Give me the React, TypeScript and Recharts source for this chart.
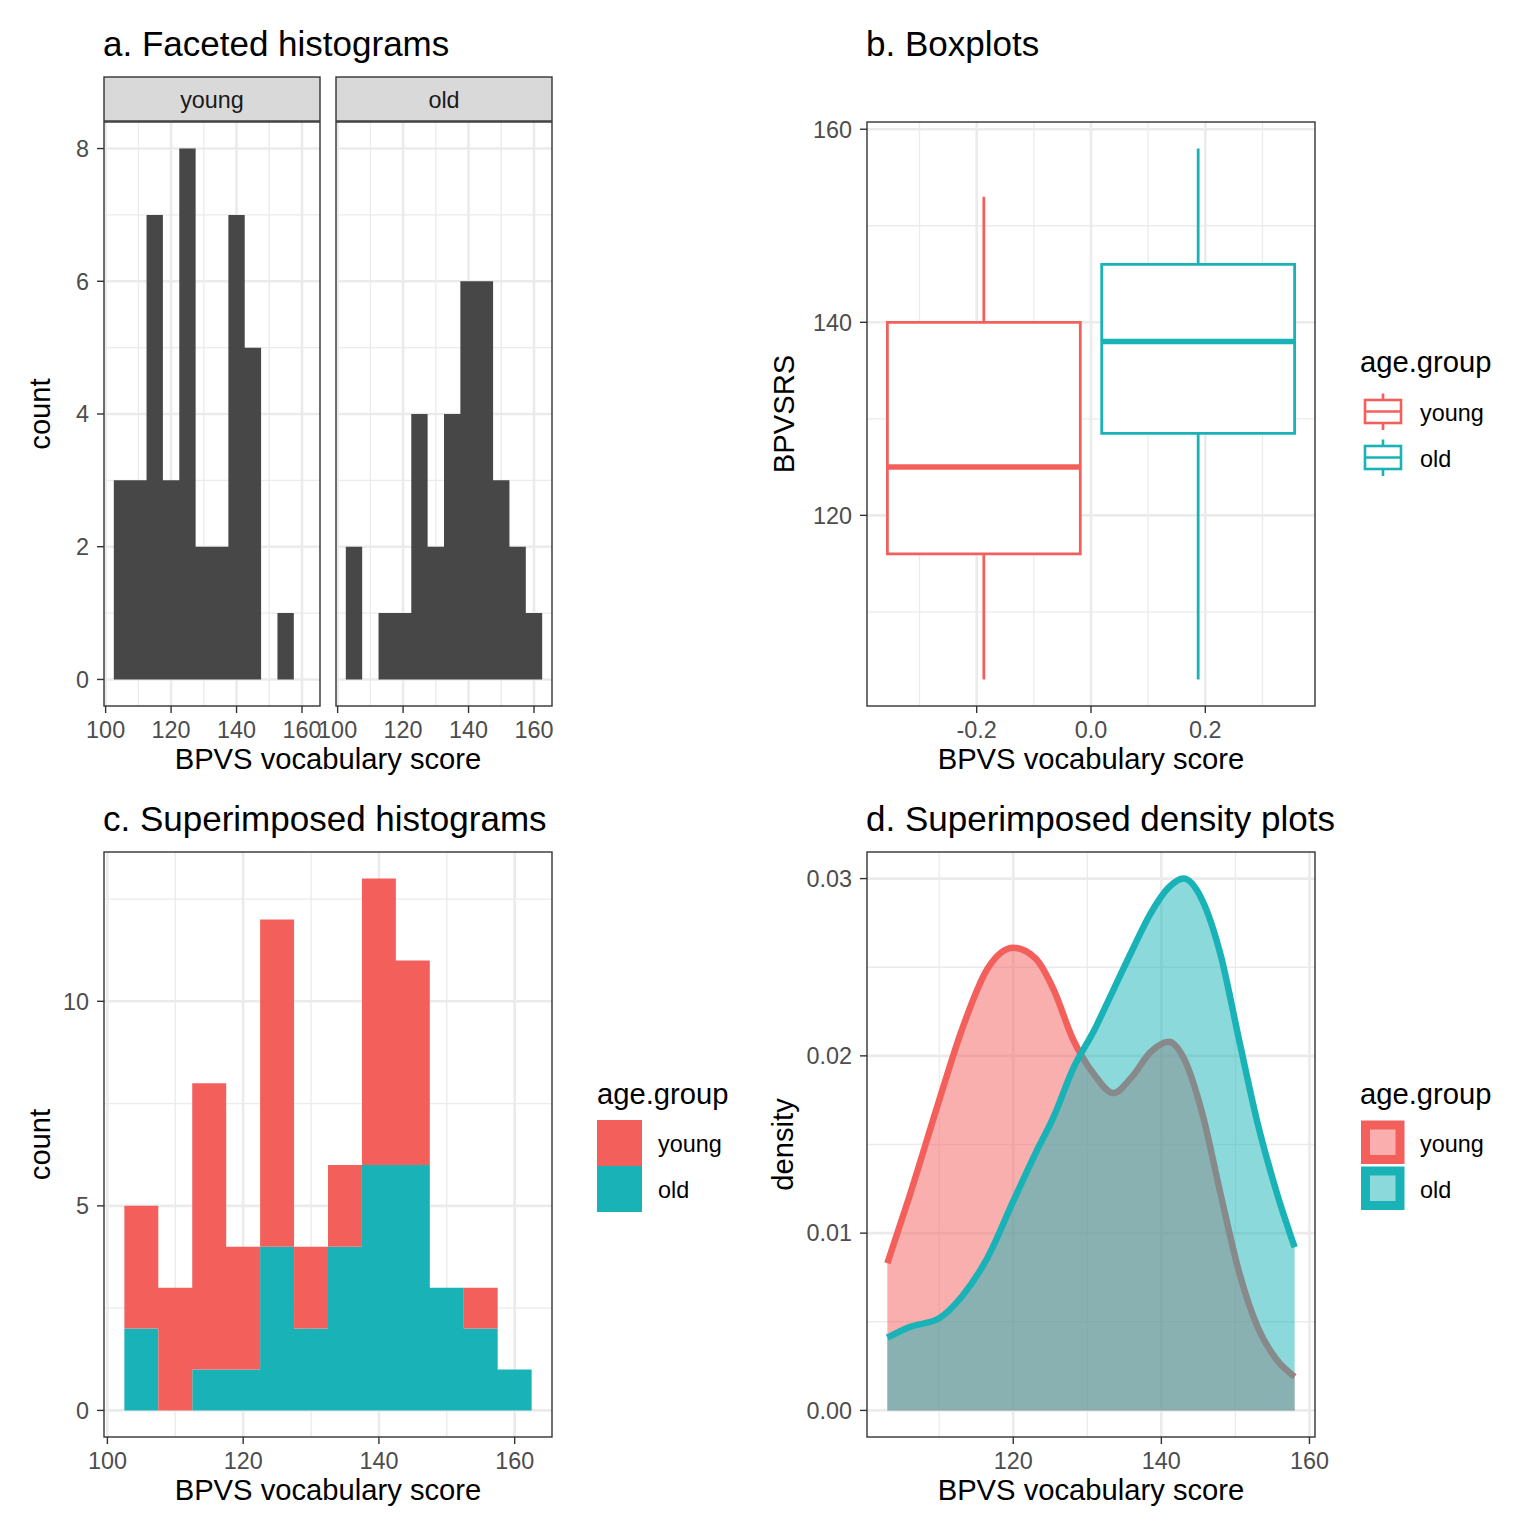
import React from "react";
import {
  ComposedChart,
  Area,
  Scatter,
  XAxis,
  YAxis,
  CartesianGrid,
  ReferenceArea,
  ReferenceLine,
} from "recharts";

const FONT = '"Liberation Sans", Arial, Helvetica, sans-serif';
const RED = "#F3605C";
const TEAL = "#19B3B7";
const HIST_GRAY = "#474747";
const GRID = "#EBEBEB";
const INK = "#333333";

// groups
const groups = ["young", "old"];
const groupColors = [RED, TEAL];

// histogram bins, width 5
const BIN_WIDTH = 5;
const binCenters = [105, 110, 115, 120, 125, 130, 135, 140, 145, 150, 155, 160];
const youngCounts = [3, 3, 7, 3, 8, 2, 2, 7, 5, 0, 1, 0];
const oldCounts = [2, 0, 1, 1, 4, 2, 4, 6, 6, 3, 2, 1];

// boxplot stats (young, old)
const whiskerLow = [103, 103];
const quartile1 = [116, 128.5];
const medians = [125, 138];
const quartile3 = [140, 146];
const whiskerHigh = [153, 158];

// density curves
const densityX = [103, 106, 110, 113, 116.5, 120, 123, 125.5, 128, 131, 133.5, 136, 138.5, 141, 143, 145.5, 148, 150.5, 153, 155.5, 158];
const youngDensity = [0.0083, 0.0121, 0.0175, 0.0214, 0.0249, 0.0261, 0.0255, 0.0237, 0.021, 0.0189, 0.0179, 0.0188, 0.0202, 0.0208, 0.0199, 0.0168, 0.0122, 0.0078, 0.0047, 0.0029, 0.0019];
const oldDensity = [0.0041, 0.0047, 0.0052, 0.0064, 0.0086, 0.0118, 0.0145, 0.0166, 0.0192, 0.0215, 0.0237, 0.0259, 0.028, 0.0295, 0.03, 0.0288, 0.0257, 0.0209, 0.0162, 0.0124, 0.0092];

// ticks / grid
const scoreTicks = [100, 120, 140, 160];
const scoreMinor = [110, 130, 150];
const facetCountTicks = [0, 2, 4, 6, 8];
const facetCountMinor = [1, 3, 5, 7];
const stackCountTicks = [0, 5, 10];
const stackCountMinor = [2.5, 7.5, 12.5];
const boxXTicks = [-0.2, 0, 0.2];
const boxXMinor = [-0.3, -0.1, 0.1, 0.3];
const boxYTicks = [120, 140, 160];
const boxYMinor = [110, 130, 150];
const densXTicks = [120, 140, 160];
const densYTicks = [0, 0.01, 0.02, 0.03];
const densYMinor = [0.005, 0.015, 0.025];

const DODGE = 0.75;
const BOX_HALF = (DODGE / groups.length / 2) * 0.9;
const dodgeCenter = (i: number) => (i - (groups.length - 1) / 2) * (DODGE / groups.length);

// plot rectangles on the page
type Box = { x0: number; y0: number; x1: number; y1: number };
const A_LEFT: Box = { x0: 104, y0: 122, x1: 320, y1: 706 };
const A_RIGHT: Box = { x0: 336, y0: 122, x1: 552, y1: 706 };
const B: Box = { x0: 867, y0: 122, x1: 1315, y1: 706 };
const C: Box = { x0: 104, y0: 852, x1: 552, y1: 1437 };
const D: Box = { x0: 867, y0: 852, x1: 1315, y1: 1437 };

const PAD = 20;
const Y_AXIS_W = 80;
const X_AXIS_H = 60;

function frame(b: Box, withY: boolean) {
  const yw = withY ? Y_AXIS_W : 0;
  return {
    style: { position: "absolute" as const, left: b.x0 - PAD - yw, top: b.y0 - PAD },
    width: b.x1 - b.x0 + yw + 2 * PAD,
    height: b.y1 - b.y0 + PAD + X_AXIS_H,
    margin: { top: PAD, right: PAD, bottom: 0, left: PAD },
  };
}

const tickStyle = { fill: "#4D4D4D", fontSize: 23.4, fontFamily: FONT };
const axisCommon = {
  type: "number" as const,
  axisLine: false,
  tickLine: { stroke: INK, strokeWidth: 1.4 },
  tickSize: 7,
  tickMargin: 8,
  tick: tickStyle,
  interval: 0 as const,
  allowDataOverflow: true,
};

function grids(minX: number[], minY: number[], majX: number[], majY: number[]) {
  return [
    <CartesianGrid key="minor" stroke={GRID} strokeWidth={1.3} verticalValues={minX} horizontalValues={minY} />,
    <CartesianGrid key="major" stroke={GRID} strokeWidth={2.6} verticalValues={majX} horizontalValues={majY} />,
  ];
}

function stepRows(counts: number[]) {
  const rows = binCenters.map((c, i) => ({ x: c - BIN_WIDTH / 2, count: counts[i] }));
  rows.push({ x: binCenters[binCenters.length - 1] + BIN_WIDTH / 2, count: 0 });
  return rows;
}

function FacetHistogram({ box, counts, showY }: { box: Box; counts: number[]; showY: boolean }) {
  const f = frame(box, showY);
  return (
    <div style={f.style}>
      <ComposedChart width={f.width} height={f.height} margin={f.margin} data={stepRows(counts)}>
        {grids(scoreMinor, facetCountMinor, scoreTicks, facetCountTicks)}
        <XAxis {...axisCommon} dataKey="x" domain={[99.5, 165.5]} ticks={scoreTicks} height={X_AXIS_H} />
        <YAxis {...axisCommon} domain={[-0.4, 8.4]} ticks={facetCountTicks} width={Y_AXIS_W} hide={!showY} />
        <Area type="stepAfter" dataKey="count" stroke="none" fill={HIST_GRAY} fillOpacity={1} dot={false} activeDot={false} isAnimationActive={false} />
      </ComposedChart>
    </div>
  );
}

function StackedHistogram() {
  const f = frame(C, true);
  const rows = binCenters.map((c, i) => ({ x: c - BIN_WIDTH / 2, young: youngCounts[i], old: oldCounts[i] }));
  rows.push({ x: binCenters[binCenters.length - 1] + BIN_WIDTH / 2, young: 0, old: 0 });
  return (
    <div style={f.style}>
      <ComposedChart width={f.width} height={f.height} margin={f.margin} data={rows}>
        {grids(scoreMinor, stackCountMinor, scoreTicks, stackCountTicks)}
        <XAxis {...axisCommon} dataKey="x" domain={[99.5, 165.5]} ticks={scoreTicks} height={X_AXIS_H} />
        <YAxis {...axisCommon} domain={[-0.65, 13.65]} ticks={stackCountTicks} width={Y_AXIS_W} />
        <Area type="stepAfter" dataKey="old" stackId="s" stroke="none" fill={TEAL} fillOpacity={1} dot={false} activeDot={false} isAnimationActive={false} />
        <Area type="stepAfter" dataKey="young" stackId="s" stroke="none" fill={RED} fillOpacity={1} dot={false} activeDot={false} isAnimationActive={false} />
      </ComposedChart>
    </div>
  );
}

function Boxplots() {
  const f = frame(B, true);
  const rows = groups.map((g, i) => ({ x: dodgeCenter(i), median: medians[i], group: g }));
  return (
    <div style={f.style}>
      <ComposedChart width={f.width} height={f.height} margin={f.margin} data={rows}>
        {grids(boxXMinor, boxYMinor, boxXTicks, boxYTicks)}
        <XAxis {...axisCommon} dataKey="x" domain={[-0.3919, 0.3919]} ticks={boxXTicks} height={X_AXIS_H} tickFormatter={(v: number) => v.toFixed(1)} />
        <YAxis {...axisCommon} domain={[100.25, 160.75]} ticks={boxYTicks} width={Y_AXIS_W} />
        <Scatter dataKey="median" shape={() => <g />} isAnimationActive={false} />
        {groups.map((g, i) => {
          const c = dodgeCenter(i);
          const col = groupColors[i];
          return [
            <ReferenceLine key={g + "lo"} segment={[{ x: c, y: whiskerLow[i] }, { x: c, y: quartile1[i] }]} stroke={col} strokeWidth={2.8} />,
            <ReferenceLine key={g + "hi"} segment={[{ x: c, y: quartile3[i] }, { x: c, y: whiskerHigh[i] }]} stroke={col} strokeWidth={2.8} />,
            <ReferenceArea key={g + "box"} x1={c - BOX_HALF} x2={c + BOX_HALF} y1={quartile1[i]} y2={quartile3[i]} fill="#FFFFFF" fillOpacity={1} stroke={col} strokeWidth={2.8} />,
            <ReferenceLine key={g + "med"} segment={[{ x: c - BOX_HALF, y: medians[i] }, { x: c + BOX_HALF, y: medians[i] }]} stroke={col} strokeWidth={5.5} />,
          ];
        })}
      </ComposedChart>
    </div>
  );
}

function Densities() {
  const f = frame(D, true);
  const rows = densityX.map((x, i) => ({ x, young: youngDensity[i], old: oldDensity[i] }));
  return (
    <div style={f.style}>
      <ComposedChart width={f.width} height={f.height} margin={f.margin} data={rows}>
        {grids(scoreMinor, densYMinor, densXTicks, densYTicks)}
        <XAxis {...axisCommon} dataKey="x" domain={[100.25, 160.75]} ticks={densXTicks} height={X_AXIS_H} />
        <YAxis {...axisCommon} domain={[-0.0015, 0.0315]} ticks={densYTicks} width={Y_AXIS_W} tickFormatter={(v: number) => v.toFixed(2)} />
        <Area type="monotone" dataKey="young" stroke={RED} strokeWidth={6.5} fill={RED} fillOpacity={0.5} dot={false} activeDot={false} isAnimationActive={false} />
        <Area type="monotone" dataKey="old" stroke={TEAL} strokeWidth={6.5} fill={TEAL} fillOpacity={0.5} dot={false} activeDot={false} isAnimationActive={false} />
      </ComposedChart>
    </div>
  );
}

function Overlay() {
  const title = { fontSize: 35, fill: "#000", fontFamily: FONT };
  const axTitle = { fontSize: 29.2, fill: "#000", fontFamily: FONT };
  const small = { fontSize: 23.4, fill: "#000", fontFamily: FONT };
  const border = (b: Box, k: string) => (
    <rect key={k} x={b.x0} y={b.y0} width={b.x1 - b.x0} height={b.y1 - b.y0} fill="none" stroke={INK} strokeWidth={1.4} />
  );
  const rotated = (label: string, x: number, y: number) => (
    <text transform={`translate(${x},${y}) rotate(-90)`} textAnchor="middle" {...axTitle}>
      {label}
    </text>
  );
  return (
    <svg width={1536} height={1536} style={{ position: "absolute", left: 0, top: 0, pointerEvents: "none" }}>
      <text x={103} y={56} {...title}>a. Faceted histograms</text>
      <text x={866} y={56} {...title}>b. Boxplots</text>
      <text x={103} y={831} {...title}>c. Superimposed histograms</text>
      <text x={866} y={831} {...title}>d. Superimposed density plots</text>

      {/* facet strips */}
      {[A_LEFT, A_RIGHT].map((b, i) => (
        <g key={"strip" + i}>
          <rect x={b.x0} y={77} width={b.x1 - b.x0} height={44} fill="#D9D9D9" stroke={INK} strokeWidth={1.4} />
          <text x={(b.x0 + b.x1) / 2} y={108} textAnchor="middle" {...small} fill="#1A1A1A">
            {groups[i]}
          </text>
        </g>
      ))}

      {border(A_LEFT, "a1")}
      {border(A_RIGHT, "a2")}
      {border(B, "b")}
      {border(C, "c")}
      {border(D, "d")}

      <text x={328} y={769} textAnchor="middle" {...axTitle}>BPVS vocabulary score</text>
      <text x={1091} y={769} textAnchor="middle" {...axTitle}>BPVS vocabulary score</text>
      <text x={328} y={1500} textAnchor="middle" {...axTitle}>BPVS vocabulary score</text>
      <text x={1091} y={1500} textAnchor="middle" {...axTitle}>BPVS vocabulary score</text>
      {rotated("count", 50, 414)}
      {rotated("BPVSRS", 794, 414)}
      {rotated("count", 50, 1144.5)}
      {rotated("density", 793, 1144.5)}

      {/* legend b: boxplot keys */}
      <text x={1360} y={372} {...axTitle}>age.group</text>
      {groups.map((g, i) => {
        const top = 390 + i * 46;
        const col = groupColors[i];
        return (
          <g key={"lb" + g}>
            <line x1={1383} x2={1383} y1={top + 3.5} y2={top + 10} stroke={col} strokeWidth={2.6} />
            <line x1={1383} x2={1383} y1={top + 33} y2={top + 40} stroke={col} strokeWidth={2.6} />
            <rect x={1365} y={top + 10} width={36} height={23} fill="#fff" stroke={col} strokeWidth={2.6} />
            <line x1={1365} x2={1401} y1={top + 21.5} y2={top + 21.5} stroke={col} strokeWidth={2.6} />
            <text x={1420} y={top + 31} {...small}>{g}</text>
          </g>
        );
      })}

      {/* legend c: filled keys */}
      <text x={597} y={1104} {...axTitle}>age.group</text>
      {groups.map((g, i) => {
        const top = 1120 + i * 46;
        return (
          <g key={"lc" + g}>
            <rect x={597} y={top} width={45} height={46} fill={groupColors[i]} />
            <text x={658} y={top + 32} {...small}>{g}</text>
          </g>
        );
      })}

      {/* legend d: outlined translucent keys */}
      <text x={1360} y={1104} {...axTitle}>age.group</text>
      {groups.map((g, i) => {
        const top = 1120.5 + i * 46;
        const col = groupColors[i];
        return (
          <g key={"ld" + g}>
            <rect x={1365.5} y={top + 4.5} width={34.5} height={34.5} fill={col} fillOpacity={0.5} stroke={col} strokeWidth={9} />
            <text x={1420} y={top + 31.5} {...small}>{g}</text>
          </g>
        );
      })}
    </svg>
  );
}

export default function App() {
  return (
    <div style={{ position: "absolute", left: 0, top: 0, width: 1536, height: 1536, background: "#FFFFFF", fontFamily: FONT }}>
      <FacetHistogram box={A_LEFT} counts={youngCounts} showY={true} />
      <FacetHistogram box={A_RIGHT} counts={oldCounts} showY={false} />
      <Boxplots />
      <StackedHistogram />
      <Densities />
      <Overlay />
    </div>
  );
}
